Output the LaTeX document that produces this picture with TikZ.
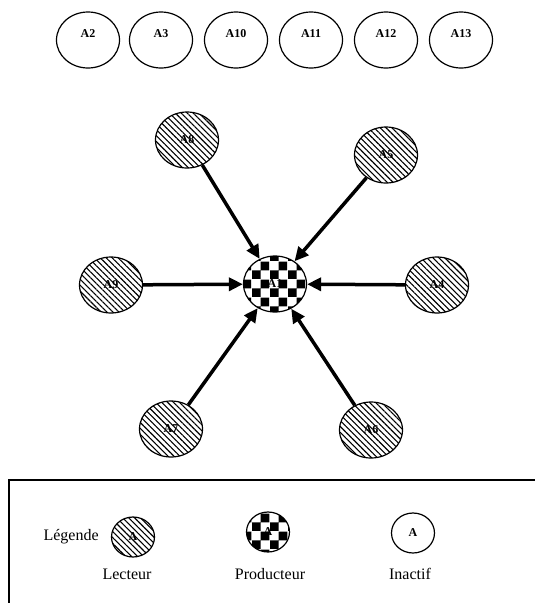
\documentclass[tikz,border=0pt]{standalone}
\usepackage{fontspec}
\setmainfont{Liberation Serif}
\usetikzlibrary{shapes.geometric,arrows.meta,patterns,patterns.meta}

% checkerboard with large squares
\pgfdeclarepatternformonly{damier}{\pgfqpoint{0pt}{0pt}}{\pgfqpoint{18pt}{18pt}}{\pgfqpoint{18pt}{18pt}}{%
  \pgfpathrectangle{\pgfqpoint{0pt}{0pt}}{\pgfqpoint{9pt}{9pt}}%
  \pgfpathrectangle{\pgfqpoint{9pt}{9pt}}{\pgfqpoint{9pt}{9pt}}%
  \pgfusepath{fill}}

\tikzset{
  agent/.style={ellipse, draw, line width=1.2pt, minimum width=63pt,
    minimum height=56pt, inner sep=0pt, font=\bfseries\fontsize{12}{12}\selectfont},
  inactif/.style={agent, text depth=12pt},
  lecteur/.style={agent, pattern={Lines[angle=-45,distance=4.2pt,line width=1.1pt]}},
  producteur/.style={agent, pattern=damier},
  petit/.style={minimum width=43pt, minimum height=40pt},
  fleche/.style={line width=3.5pt, -{Triangle[length=14pt,width=13pt]}},
  legende/.style={font=\fontsize{16}{16}\selectfont},
}

\begin{document}
\begin{tikzpicture}[x=1pt, y=-1pt]
  \useasboundingbox (0,0) rectangle (535,603);

  % Inactive agents
  \node[inactif] (a2) at (88, 40) {A2};
  \node[inactif] (a3) at (161, 40) {A3};
  \node[inactif] (a10) at (236, 40) {A10};
  \node[inactif] (a11) at (311, 40) {A11};
  \node[inactif] (a12) at (386, 40) {A12};
  \node[inactif] (a13) at (461, 40) {A13};

  % Producer and readers
  \node[producteur] (a1) at (275, 284) {A1};
  \node[lecteur] (a8) at (187, 140) {A8};
  \node[lecteur] (a5) at (386, 155) {A5};
  \node[lecteur] (a9) at (111, 285) {A9};
  \node[lecteur] (a4) at (437, 285) {A4};
  \node[lecteur] (a7) at (171, 429) {A7};
  \node[lecteur] (a6) at (371, 430) {A6};

  \foreach \src in {a8, a5, a9, a4, a7, a6}
    \draw[fleche] (\src) -- (a1);

  % Legend
  \draw[line width=1.2pt] (9, 603) |- (535, 480);
  \node[legende, anchor=west] (leg) at (40, 537) {Légende};
  \node[lecteur, petit] (l1) at (133, 537) {A};
  \node[producteur, petit] (l2) at (268, 532) {A};
  \node[agent, petit] (l3) at (413, 533) {A};
  \node[legende] (t1) at (127, 574) {Lecteur};
  \node[legende] (t2) at (270, 574) {Producteur};
  \node[legende] (t3) at (410, 574) {Inactif};
\end{tikzpicture}
\end{document}
